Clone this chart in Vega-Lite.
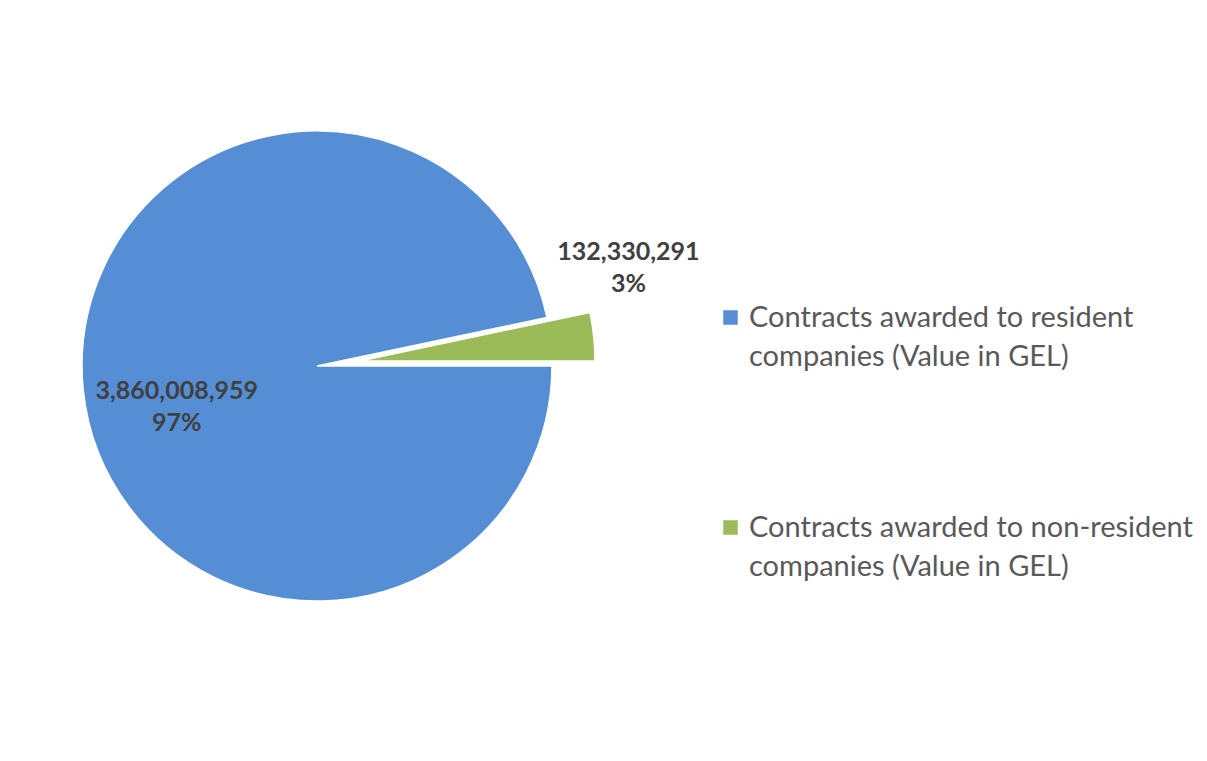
{
  "$schema": "https://vega.github.io/schema/vega-lite/v6.json",
  "width": 634,
  "height": 732,
  "autosize": {"type": "none"},
  "padding": {"left": 0, "top": 0, "right": 573, "bottom": 29},
  "background": "white",
  "config": {"view": {"stroke": null}, "font": "Lato", "style": {"guide-label": {"lineHeight": 39}}},
  "data": {
    "values": [
      {"category": "Contracts awarded to resident companies (Value in GEL)", "value": 3860008959, "pct": "97%"},
      {"category": "Contracts awarded to non-resident companies (Value in GEL)", "value": 132330291, "pct": "3%"}
    ]
  },
  "transform": [
    {"calculate": "[format(datum.value, ','), datum.pct]", "as": "lbl"}
  ],
  "encoding": {
    "theta": {"field": "value", "type": "quantitative", "stack": true, "scale": {"range": [1.3626, 7.6458]}},
    "order": {"field": "category", "sort": "ascending"}
  },
  "layer": [
    {
      "mark": {"type": "arc", "outerRadius": 235, "stroke": "white", "strokeWidth": 1.5},
      "encoding": {
        "color": {
          "field": "category", "type": "nominal",
          "scale": {"domain": ["Contracts awarded to resident companies (Value in GEL)", "Contracts awarded to non-resident companies (Value in GEL)"], "range": ["#558ed5", "#9bbb59"]},
          "legend": {
            "orient": "none", "legendX": 716, "legendY": 303, "title": null,
            "symbolType": "square", "symbolSize": 210, "symbolStrokeWidth": 0,
            "labelFont": "Lato", "labelFontSize": 29, "labelColor": "#595959",
            "labelLimit": 600, "labelOffset": 4, "rowPadding": 141,
            "labelExpr": "split(replace(datum.label, ' companies (', '|companies ('), '|')",
            "encode": {"labels": {"update": {"lineHeight": {"value": 39}, "dy": {"value": 20}}}}
          }
        },
        "opacity": {"condition": {"test": "datum.category == 'Contracts awarded to non-resident companies (Value in GEL)'", "value": 0}, "value": 1}
      }
    },
    {
      "mark": {"type": "arc", "outerRadius": 235, "stroke": "white", "strokeWidth": 1.5, "xOffset": 43, "yOffset": -5},
      "encoding": {
        "color": {"field": "category", "type": "nominal"},
        "opacity": {"condition": {"test": "datum.category == 'Contracts awarded to resident companies (Value in GEL)'", "value": 0}, "value": 1}
      }
    },
    {
      "mark": {"type": "text", "radius": 145, "dx": 4, "dy": 10, "font": "Lato", "fontSize": 25, "fontWeight": "bold", "color": "#404040", "lineHeight": 32, "baseline": "middle", "align": "center"},
      "encoding": {
        "text": {"condition": {"test": "datum.category == 'Contracts awarded to non-resident companies (Value in GEL)'", "value": ""}, "field": "lbl"}
      }
    },
    {
      "mark": {"type": "text", "radius": 300, "dx": 13, "dy": -83, "font": "Lato", "fontSize": 25, "fontWeight": "bold", "color": "#404040", "lineHeight": 32, "baseline": "middle", "align": "center"},
      "encoding": {
        "text": {"condition": {"test": "datum.category == 'Contracts awarded to resident companies (Value in GEL)'", "value": ""}, "field": "lbl"}
      }
    }
  ]
}
